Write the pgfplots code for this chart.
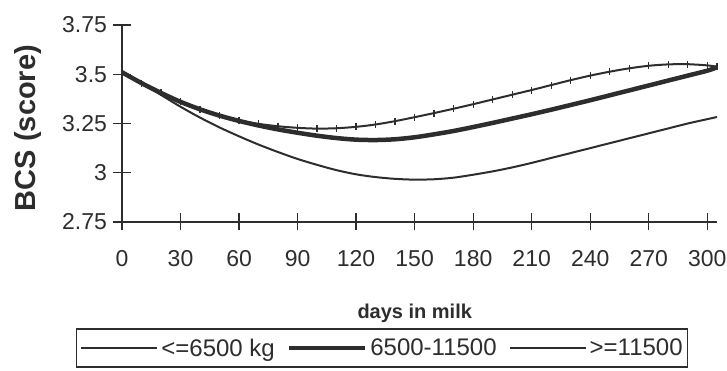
\documentclass[border=0pt]{standalone}
\usepackage{pgfplots}
\usepackage{pgfplotstable}
\pgfplotsset{compat=1.18}
\usepackage{fontspec}
\setmainfont{Liberation Sans}
\definecolor{ink}{RGB}{45,45,45}
\pgfplotstableread{
day bcs
0 3.51
10 3.455
20 3.405
30 3.36
40 3.322
50 3.29
60 3.265
70 3.248
80 3.236
90 3.228
100 3.224
110 3.226
120 3.233
130 3.245
140 3.262
150 3.282
160 3.303
170 3.325
180 3.348
190 3.372
200 3.396
210 3.42
220 3.445
230 3.47
240 3.493
250 3.513
260 3.53
270 3.543
280 3.55
290 3.551
300 3.545
305 3.538
}\lowyield
\pgfplotstableread{
day bcs
0 3.51
10 3.455
20 3.405
30 3.36
40 3.322
50 3.29
60 3.263
70 3.24
80 3.22
90 3.203
100 3.188
110 3.176
120 3.168
130 3.166
140 3.17
150 3.18
160 3.195
170 3.212
180 3.232
190 3.253
200 3.275
210 3.297
220 3.32
230 3.344
240 3.368
250 3.393
260 3.418
270 3.443
280 3.468
290 3.493
300 3.518
305 3.535
}\midyield
\pgfplotstableread{
day bcs
0 3.51
10 3.455
20 3.395
30 3.335
40 3.28
50 3.23
60 3.185
70 3.143
80 3.105
90 3.07
100 3.04
110 3.013
120 2.992
130 2.978
140 2.969
150 2.965
160 2.967
170 2.975
180 2.99
190 3.007
200 3.027
210 3.05
220 3.075
230 3.10
240 3.125
250 3.15
260 3.175
270 3.20
280 3.225
290 3.25
300 3.272
305 3.283
}\highyield
\begin{document}
\begin{tikzpicture}
\useasboundingbox (0,0) rectangle (727pt,371pt);
\begin{axis}[
  at={(122pt,149pt)}, anchor=south west,
  scale only axis, width=595pt, height=197pt,
  xmin=0, xmax=305, ymin=2.75, ymax=3.75,
  axis x line=bottom, axis y line=left,
  axis line style={-, line width=1.4pt, color=ink},
  xtick={0,30,...,300}, ytick={2.75,3,3.25,3.5,3.75},
  tick align=center, major tick length=17pt,
  every tick/.style={line width=1.3pt, ink},
  /pgf/number format/assume math mode=true,
  ticklabel style={font=\fontsize{23}{26}\selectfont, text=ink},
  yticklabel style={xshift=-3pt},
  xticklabel style={yshift=-16pt},
  xlabel={days in milk}, ylabel={BCS (score)},
  xlabel style={at={(axis description cs:0.492,-0.465)}, anchor=center, font=\bfseries\fontsize{20}{22}\selectfont, text=ink},
  ylabel style={at={(axis description cs:-0.158,0.477)}, anchor=center, font=\bfseries\fontsize{29}{32}\selectfont, text=ink},
  legend columns=3,
  legend style={at={(axis description cs:0.437,-0.64)}, anchor=center, draw=ink, line width=1.4pt,
    font=\fontsize{24}{26}\selectfont, text=ink, inner xsep=4pt, inner ysep=7.5pt,
    /tikz/every odd column/.append style={column sep=2pt},
    /tikz/every even column/.append style={column sep=11pt},
    nodes={inner xsep=1pt}},
  legend image code/.code={\draw[#1] (0pt,0pt) -- (76pt,0pt);},
]
\addplot[ink, line width=2pt, smooth, mark=|, mark size=3.5pt, mark options={line width=1.3pt, solid}] table[x=day, y=bcs] {\lowyield};
\addlegendentry{<=6500 kg}
\addplot[ink, line width=4.5pt, smooth] table[x=day, y=bcs] {\midyield};
\addlegendentry{6500-11500}
\addplot[ink, line width=2pt, smooth] table[x=day, y=bcs] {\highyield};
\addlegendentry{>=11500}
\end{axis}
\end{tikzpicture}
\end{document}
